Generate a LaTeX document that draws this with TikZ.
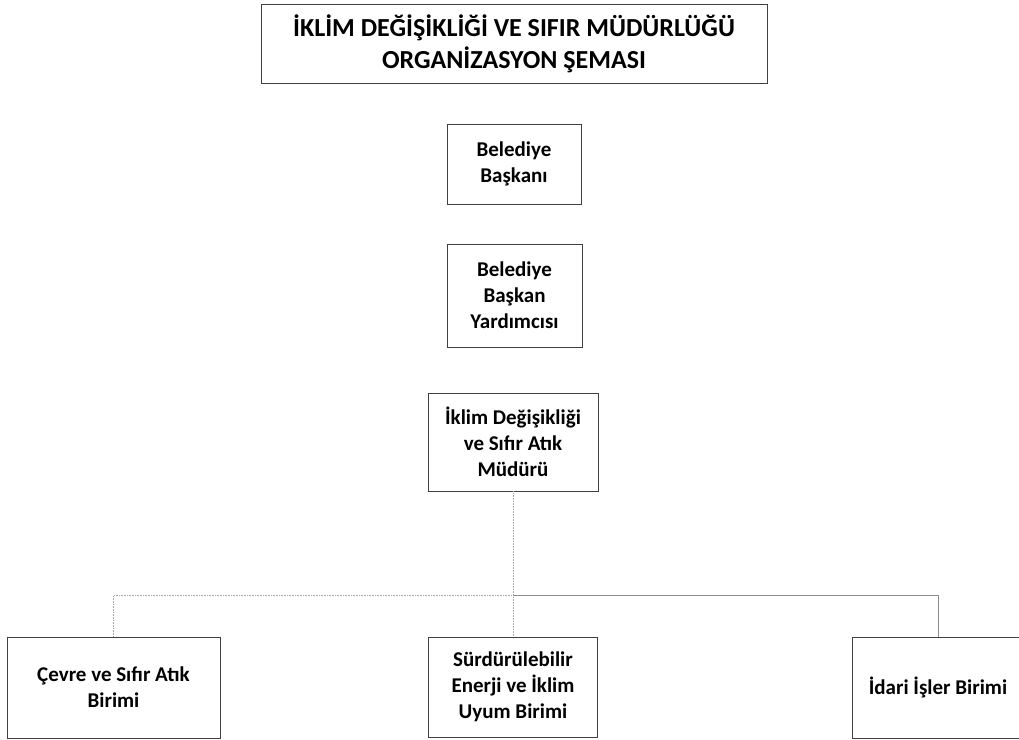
\documentclass[tikz,border=0pt]{standalone}
\usepackage{fontspec}
\setmainfont{Carlito}
\usepackage{tikz}
\usetikzlibrary{calc,positioning}

\tikzset{
    unit/.style={draw=black!75, line width=0.8pt, inner sep=0pt, align=center,
        font=\fontsize{21}{26}\selectfont\bfseries},
    link/.style={draw=black!45, line width=0.6pt},
    faint/.style={draw=black!35, line width=0.6pt, densely dotted}
}

\begin{document}
\begin{tikzpicture}[x=1pt,y=-1pt]
        \useasboundingbox (0,0) rectangle (1019,739);

        \node[unit, minimum width=506, minimum height=79,
            font=\fontsize{26}{32}\selectfont\bfseries] (title) at (514,43.5)
            {İKLİM DEĞİŞİKLİĞİ VE SIFIR MÜDÜRLÜĞÜ\\ORGANİZASYON ŞEMASI};

        \node[unit, minimum width=134, minimum height=80] (baskan) at (514,164) {Belediye\\Başkanı};
        \node[unit, minimum width=135, minimum height=103] (yardimci) at (514.5,295.5) {Belediye\\Başkan\\Yardımcısı};
        \node[unit, minimum width=170, minimum height=98] (mudur) at (513,442) {İklim Değişikliği\\ve Sıfır Atık\\Müdürü};

        \node[unit, minimum width=213, minimum height=101] (cevre) at (113.5,687.5) {Çevre ve Sıfır Atık\\Birimi};
        \node[unit, minimum width=169, minimum height=100] (enerji) at (513,687) {Sürdürülebilir\\Enerji ve İklim\\Uyum Birimi};
        \node[unit, minimum width=172, minimum height=101] (idari) at (938,687.5) {İdari İşler Birimi};

        \coordinate (bus) at ($(enerji.north)+(0,-41)$);

        \draw[faint] (mudur.south) -- (enerji.north);
        \draw[faint] (cevre.north) |- (bus);
        \draw[link] (bus) -| (idari.north);
    \end{tikzpicture}
\end{document}
